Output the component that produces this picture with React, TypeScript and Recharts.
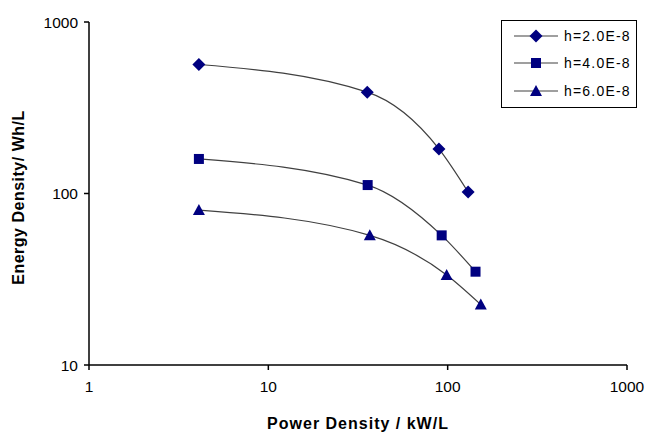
import React from 'react'
import { LineChart, Line, XAxis, YAxis, Legend } from 'recharts'

// power density (kW/L) and energy density (Wh/L) for each h
const powerH2 = [4.1, 35.6, 89.4, 130]
const energyH2 = [565, 390, 182, 102]
const powerH4 = [4.1, 35.8, 92.6, 143]
const energyH4 = [159, 112, 57, 35]
const powerH6 = [4.1, 36.8, 98.7, 153]
const energyH6 = [80, 57, 33.5, 22.5]

const xTicks = [1, 10, 100, 1000]
const yTicks = [10, 100, 1000]

const seriesNames = ['h=2.0E-8', 'h=4.0E-8', 'h=6.0E-8']

const toPoints = (xs: number[], ys: number[]) => xs.map((x, i) => ({ x, y: ys[i] }))

const NAVY = '#000080'
const FONT = '"Liberation Sans", Arial, sans-serif'

type Shape = 'diamond' | 'square' | 'triangle'

const Marker = ({ cx, cy, shape }: { cx: number; cy: number; shape: Shape }) => {
  if (cx == null || cy == null) return null
  if (shape === 'diamond') {
    const r = 6.5
    return <path d={`M${cx},${cy - r}L${cx + r},${cy}L${cx},${cy + r}L${cx - r},${cy}Z`} fill={NAVY} />
  }
  if (shape === 'square') {
    const r = 5
    return <rect x={cx - r} y={cy - r} width={r * 2} height={r * 2} fill={NAVY} />
  }
  return <path d={`M${cx},${cy - 6}L${cx + 6},${cy + 5}L${cx - 6},${cy + 5}Z`} fill={NAVY} />
}

const shapes: Shape[] = ['diamond', 'square', 'triangle']

const renderLegend = () => (
  <div
    style={{
      border: '1px solid #000',
      background: '#fff',
      width: 136,
      height: 88,
      boxSizing: 'border-box',
      fontFamily: FONT,
      fontSize: 14,
      paddingTop: 1,
    }}
  >
    {seriesNames.map((name, i) => (
      <div key={name} style={{ display: 'flex', alignItems: 'center', height: 27.5 }}>
        <svg width={62} height={16} style={{ display: 'block' }}>
          <line x1={12} y1={8} x2={56} y2={8} stroke="#404040" strokeWidth={1.2} />
          <Marker cx={34} cy={8} shape={shapes[i]} />
        </svg>
        <span style={{ color: '#000', letterSpacing: 1.2 }}>{name}</span>
      </div>
    ))}
  </div>
)

export default function App() {
  const data = [toPoints(powerH2, energyH2), toPoints(powerH4, energyH4), toPoints(powerH6, energyH6)]

  return (
    <div style={{ position: 'absolute', left: 0, top: 0, width: 649, height: 432, background: '#fff' }}>
      <LineChart width={649} height={432} margin={{ top: 22, right: 22, left: 0, bottom: 0 }}>
        <XAxis
          dataKey="x"
          type="number"
          scale="log"
          domain={[1, 1000]}
          ticks={xTicks}
          allowDataOverflow
          height={67}
          stroke="#000"
          strokeWidth={1.5}
          tickSize={5}
          tickMargin={11}
          tick={{ fill: '#000', fontSize: 15.5, fontFamily: FONT }}
          label={{
            value: 'Power Density / kW/L',
            position: 'insideBottom',
            offset: 3,
            style: { fill: '#000', fontSize: 16, fontWeight: 'bold', fontFamily: FONT, letterSpacing: 1 },
          }}
        />
        <YAxis
          dataKey="y"
          type="number"
          scale="log"
          domain={[10, 1000]}
          ticks={yTicks}
          allowDataOverflow
          width={89}
          stroke="#000"
          strokeWidth={1.5}
          tickSize={5}
          tickMargin={6}
          tick={{ fill: '#000', fontSize: 15.5, fontFamily: FONT }}
          label={{
            value: 'Energy Density/ Wh/L',
            angle: -90,
            position: 'insideLeft',
            offset: 18,
            dy: 4,
            style: { fill: '#000', fontSize: 16, fontWeight: 'bold', fontFamily: FONT, textAnchor: 'middle', letterSpacing: 0.5 },
          }}
        />
        <Legend
          layout="horizontal"
          verticalAlign="middle"
          align="center"
          content={renderLegend}
          wrapperStyle={{ left: 501, top: 20, width: 136, height: 88 }}
        />
        {data.map((pts, i) => (
          <Line
            key={seriesNames[i]}
            name={seriesNames[i]}
            data={pts}
            dataKey="y"
            type="monotone"
            stroke="#404040"
            strokeWidth={1.2}
            isAnimationActive={false}
            dot={(p: any) => <Marker key={`${i}-${p.index}`} cx={p.cx} cy={p.cy} shape={shapes[i]} />}
            activeDot={false}
          />
        ))}
      </LineChart>
    </div>
  )
}
